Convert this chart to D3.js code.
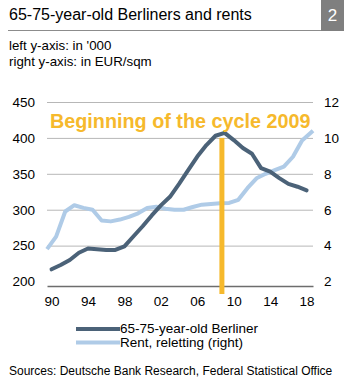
<!DOCTYPE html>
<html>
<head>
<meta charset="utf-8">
<script src="https://cdn.jsdelivr.net/npm/d3@7"></script>
<style>
  html, body { margin: 0; padding: 0; background: #fff; }
  svg { display: block; font-family: "Liberation Sans", Arial, sans-serif; }
</style>
</head>
<body>
<div id="chart"></div>
<script>
// population aged 65-75 in Berlin ('000), left axis
const popYears = d3.range(1990, 2019);
const popValues = [217, 223, 230, 240, 246, 245, 244, 244, 249, 263, 277, 292, 306, 318, 336,
  355, 374, 390, 403, 407, 397, 386, 378, 358, 353, 344, 336, 332, 327];

// reletting rent (EUR/sqm), right axis
const rentYears = [1989.5, 1990.5, 1991.5, 1992.5, 1993.5, 1994.5, 1995.5, 1996.5, 1997.5, 1998.5,
  1999.5, 2000.5, 2001.5, 2002.5, 2003.5, 2004.5, 2005.5, 2006.5, 2007.5, 2008.5, 2009.5,
  2010.5, 2011.5, 2012.5, 2013.5, 2014.5, 2015.5, 2016.5, 2017.5, 2018.7];
const rentValues = [3.8, 4.5, 5.9, 6.25, 6.1, 6.0, 5.4, 5.35, 5.45, 5.6,
  5.8, 6.1, 6.17, 6.05, 6.0, 6.0, 6.15, 6.28, 6.32, 6.36, 6.38,
  6.55, 7.2, 7.75, 8.0, 8.2, 8.4, 8.95, 9.85, 10.4];

const xTicks = [1990, 1994, 1998, 2002, 2006, 2010, 2014, 2018];
const leftTicks = [200, 250, 300, 350, 400, 450];
const rightTicks = [2, 4, 6, 8, 10, 12];

const cycleYear = 2008.7;
const cycleTop = 400;

const COLOR_POP = "#4b6278";
const COLOR_RENT = "#afcbe7";
const COLOR_CYCLE = "#f6b92c";
const COLOR_GRID = "#b7b7b7";

const width = 352, height = 382;
const svg = d3.select("#chart").append("svg")
  .attr("width", width).attr("height", height);

// header
svg.append("text").attr("x", 9).attr("y", 20)
  .attr("font-size", 16).attr("fill", "#000")
  .text("65-75-year-old Berliners and rents");
svg.append("line").attr("x1", 8).attr("x2", 321).attr("y1", 30.5).attr("y2", 30.5)
  .attr("stroke", "#8c8c8c").attr("stroke-width", 1);
svg.append("rect").attr("x", 321).attr("y", 0).attr("width", 23).attr("height", 31)
  .attr("fill", "#7f7f7f");
svg.append("text").attr("x", 332.5).attr("y", 21).attr("text-anchor", "middle")
  .attr("font-size", 17).attr("fill", "#fff").text("2");

svg.append("text").attr("x", 9).attr("y", 50).attr("font-size", 13.3).text("left y-axis: in '000");
svg.append("text").attr("x", 9).attr("y", 66).attr("font-size", 13.3).text("right y-axis: in EUR/sqm");

// scales
const x = d3.scaleLinear().domain([1989.5, 2018.7]).range([47, 313]);
const yL = d3.scaleLinear().domain([193.75, 450]).range([286, 102]);
const yR = d3.scaleLinear().domain([1.75, 12]).range([286, 102]);

// gridlines
svg.append("g")
  .selectAll("line").data(leftTicks.filter(d => d > 200)).join("line")
  .attr("x1", x.range()[0]).attr("x2", x.range()[1])
  .attr("y1", d => yL(d) + 0.5).attr("y2", d => yL(d) + 0.5)
  .attr("stroke", COLOR_GRID).attr("stroke-width", 1);

// left axis
const gl = svg.append("g").attr("transform", "translate(37,0)")
  .call(d3.axisLeft(yL).tickValues(leftTicks).tickSize(0).tickPadding(2));
gl.select(".domain").remove();
gl.selectAll("text").attr("font-size", 13.5).attr("fill", "#000").attr("font-family", null);

// right axis
const gr = svg.append("g").attr("transform", "translate(322,0)")
  .call(d3.axisRight(yR).tickValues(rightTicks).tickSize(0).tickPadding(2));
gr.select(".domain").remove();
gr.selectAll("text").attr("font-size", 13.5).attr("fill", "#000").attr("font-family", null);

// bottom axis
const gb = svg.append("g").attr("transform", `translate(0,${yL.range()[0]})`)
  .call(d3.axisBottom(x).tickValues(xTicks).tickSize(0).tickPadding(10)
    .tickFormat(d => String(d).slice(2)));
gb.select(".domain").attr("stroke", "#6d6d6d").attr("stroke-width", 1.5);
gb.selectAll("text").attr("font-size", 13.5).attr("fill", "#000").attr("font-family", null);

// lines
const rentLine = d3.line().x((d, i) => x(rentYears[i])).y(d => yR(d));
svg.append("path").datum(rentValues)
  .attr("d", rentLine).attr("fill", "none")
  .attr("stroke", COLOR_RENT).attr("stroke-width", 4).attr("stroke-linejoin", "round");

const popLine = d3.line().x((d, i) => x(popYears[i])).y(d => yL(d));
svg.append("path").datum(popValues)
  .attr("d", popLine).attr("fill", "none")
  .attr("stroke", COLOR_POP).attr("stroke-width", 4).attr("stroke-linejoin", "round")
  .attr("stroke-linecap", "round");

// cycle marker
svg.append("rect")
  .attr("x", x(cycleYear) - 2.5).attr("width", 5)
  .attr("y", yL(cycleTop)).attr("height", yL.range()[0] + 8 - yL(cycleTop))
  .attr("fill", COLOR_CYCLE);
svg.append("text").attr("x", 50).attr("y", 127.5)
  .attr("font-size", 19.8).attr("font-weight", "bold").attr("fill", COLOR_CYCLE)
  .text("Beginning of the cycle 2009");

// legend
const legend = [
  { label: "65-75-year-old Berliner", color: COLOR_POP },
  { label: "Rent, reletting (right)", color: COLOR_RENT }
];
const lg = svg.append("g").selectAll("g").data(legend).join("g")
  .attr("transform", (d, i) => `translate(76,${329 + i * 13.5})`);
lg.append("line").attr("x1", 0).attr("x2", 44)
  .attr("stroke", d => d.color).attr("stroke-width", 4);
lg.append("text").attr("x", 44).attr("y", 4).attr("font-size", 13.5).text(d => d.label);

svg.append("text").attr("x", 9).attr("y", 375).attr("font-size", 12)
  .text("Sources: Deutsche Bank Research, Federal Statistical Office");
</script>
</body>
</html>
